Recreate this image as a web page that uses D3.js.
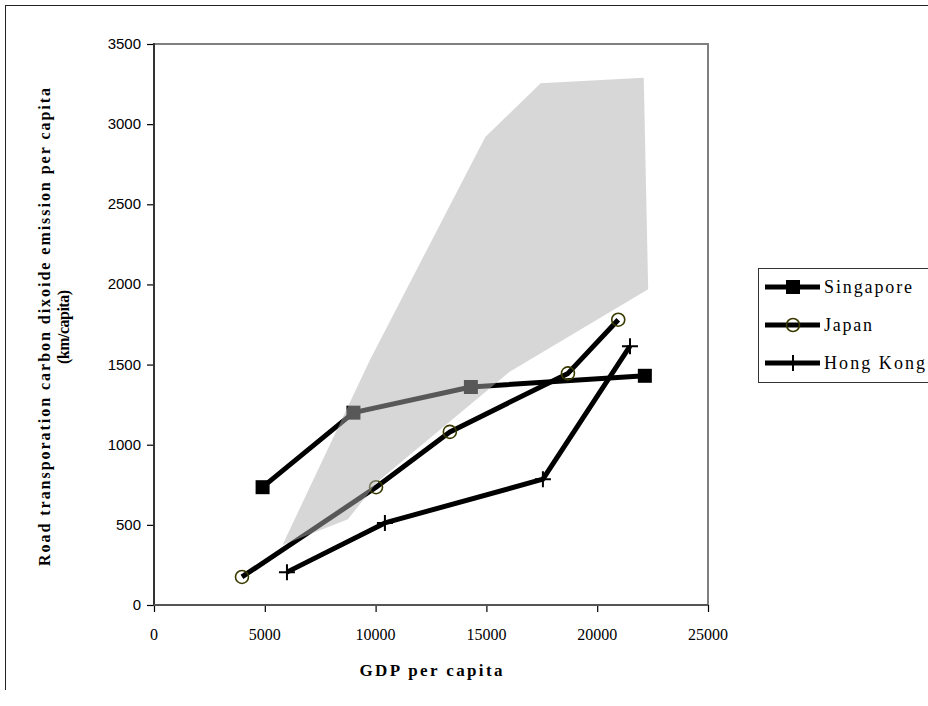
<!DOCTYPE html>
<html>
<head>
<meta charset="utf-8">
<script src="https://cdn.jsdelivr.net/npm/d3@7"></script>
<style>
  html, body { margin: 0; padding: 0; background: #fff; }
  svg { display: block; }
  .serif { font-family: 'Liberation Serif', 'Times New Roman', serif; }
  .sans { font-family: 'Liberation Sans', Arial, sans-serif; }
</style>
</head>
<body>
<svg id="chart" width="928" height="706"></svg>
<script>
// ---- data ----
const singapore = [[4900, 735], [9000, 1200], [14300, 1360], [22150, 1430]];
const japan = [[3970, 175], [10020, 735], [13350, 1080], [18680, 1445], [20950, 1780]];
const hongKong = [[6000, 205], [10420, 512], [17550, 785], [21480, 1615]];
const bandPolygon = [[5800, 375], [8750, 535], [10100, 770], [16050, 1455], [22300, 1970],
                     [22100, 3290], [17450, 3255], [14950, 2920], [9750, 1530]];
const xTicks = [0, 5000, 10000, 15000, 20000, 25000];
const yTicks = [0, 500, 1000, 1500, 2000, 2500, 3000, 3500];
const seriesNames = ["Singapore", "Japan", "Hong Kong"];
const xTitle = "GDP per capita";
const yTitle1 = "Road transporation carbon dixoide emission per capita";
const yTitle2 = "(km/capita)";

// ---- layout ----
const svg = d3.select("#chart");
const x = d3.scaleLinear().domain([0, 25000]).range([154, 708]);
const y = d3.scaleLinear().domain([0, 3500]).range([605, 44]);

// outer chart border (top & left)
svg.append("line").attr("x1", 5).attr("y1", 5.5).attr("x2", 928).attr("y2", 5.5)
  .attr("stroke", "#222").attr("stroke-width", 1);
svg.append("line").attr("x1", 5.5).attr("y1", 5).attr("x2", 5.5).attr("y2", 690)
  .attr("stroke", "#222").attr("stroke-width", 1);

// plot frame (top & right, gray)
svg.append("path")
  .attr("d", `M${x(0)},${y(3500)}H${x(25000)}V${y(0)}`)
  .attr("fill", "none").attr("stroke", "#808080").attr("stroke-width", 2);

// axes
const yAxis = d3.axisLeft(y).tickValues(yTicks).tickSize(7).tickFormat("");
const gy = svg.append("g").attr("transform", `translate(${x(0)},0)`).call(yAxis);
gy.select(".domain").remove();
gy.selectAll(".tick line").attr("stroke", "#000").attr("stroke-width", 1.2);

const xAxis = d3.axisBottom(x).tickValues(xTicks).tickSize(7).tickFormat("");
const gx = svg.append("g").attr("transform", `translate(0,${y(0)})`).call(xAxis);
gx.select(".domain").remove();
gx.selectAll(".tick line").attr("stroke", "#000").attr("stroke-width", 1.2);

svg.append("line").attr("x1", x(0)).attr("x2", x(0)).attr("y1", y(3500) - 1).attr("y2", y(0) + 1)
  .attr("stroke", "#333").attr("stroke-width", 2);
svg.append("line").attr("x1", x(0)).attr("x2", x(25000)).attr("y1", y(0)).attr("y2", y(0))
  .attr("stroke", "#555").attr("stroke-width", 2);

// tick labels
svg.append("g").selectAll("text").data(yTicks).join("text")
  .attr("class", "sans")
  .attr("x", 141).attr("y", d => y(d) + 5)
  .attr("text-anchor", "end").attr("font-size", 15)
  .attr("fill", "#000").text(d => d);

svg.append("g").selectAll("text").data(xTicks).join("text")
  .attr("class", "serif")
  .attr("x", d => x(d)).attr("y", 640)
  .attr("text-anchor", "middle").attr("font-size", 16)
  .attr("fill", "#000").text(d => d);

// axis titles
svg.append("text").attr("class", "serif").attr("x", 431).attr("y", 676).attr("text-anchor", "middle")
  .attr("font-size", 17).attr("font-weight", "bold")
  .attr("textLength", 143).attr("lengthAdjust", "spacing")
  .text(xTitle);

svg.append("text").attr("class", "serif").attr("transform", "translate(50,327) rotate(-90)")
  .attr("text-anchor", "middle").attr("font-size", 16).attr("font-weight", "bold")
  .attr("textLength", 478).attr("lengthAdjust", "spacing")
  .text(yTitle1);
svg.append("text").attr("class", "serif").attr("transform", "translate(69,327) rotate(-90)")
  .attr("text-anchor", "middle").attr("font-size", 16).attr("font-weight", "bold")
  .attr("textLength", 74).attr("lengthAdjust", "spacing")
  .text(yTitle2);

// series
const line = d3.line().x(d => x(d[0])).y(d => y(d[1]));
const series = [singapore, japan, hongKong];
const gSeries = svg.append("g");
series.forEach(s => {
  gSeries.append("path").attr("d", line(s)).attr("fill", "none")
    .attr("stroke", "#000").attr("stroke-width", 5)
    .attr("stroke-linejoin", "round").attr("stroke-linecap", "butt");
});

function drawMarker(g, kind, cx, cy) {
  if (kind === 0) {
    g.append("rect").attr("x", cx - 7).attr("y", cy - 7).attr("width", 14).attr("height", 14)
      .attr("fill", "#000");
  } else if (kind === 1) {
    g.append("circle").attr("cx", cx).attr("cy", cy).attr("r", 6.5)
      .attr("fill", "none").attr("stroke", "#3a3a00").attr("stroke-width", 1.6);
  } else {
    g.append("path").attr("d", `M${cx - 8},${cy}H${cx + 8}M${cx},${cy - 8}V${cy + 8}`)
      .attr("stroke", "#000").attr("stroke-width", 2);
  }
}
series.forEach((s, i) => {
  s.forEach(d => drawMarker(gSeries, i, x(d[0]), y(d[1])));
});

// shaded band on top
svg.append("path")
  .attr("d", d3.line().x(d => x(d[0])).y(d => y(d[1]))(bandPolygon) + "Z")
  .attr("fill", "#b0b0b0").attr("fill-opacity", 0.5).attr("stroke", "none");

// legend
const lg = svg.append("g");
lg.append("rect").attr("x", 758.5).attr("y", 268.5).attr("width", 200).attr("height", 114)
  .attr("fill", "#fff").attr("stroke", "#333").attr("stroke-width", 1);
const legendLens = [88, 48, 101];
seriesNames.forEach((name, i) => {
  const ly = 287 + i * 38;
  lg.append("line").attr("x1", 765).attr("x2", 820).attr("y1", ly).attr("y2", ly)
    .attr("stroke", "#000").attr("stroke-width", 5);
  drawMarker(lg, i, 793, ly);
  lg.append("text").attr("class", "serif").attr("x", 824).attr("y", ly + 6)
    .attr("font-size", 18)
    .attr("textLength", legendLens[i]).attr("lengthAdjust", "spacing")
    .attr("fill", "#000").text(name);
});
</script>
</body>
</html>
